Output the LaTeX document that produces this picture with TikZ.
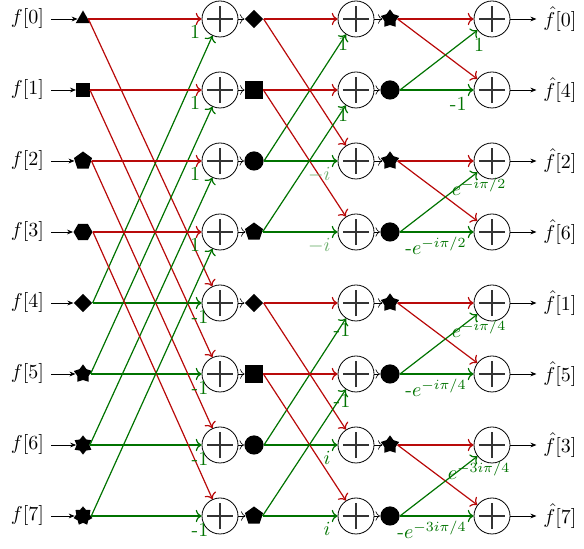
\documentclass[tikz,border=0pt]{standalone}
\usetikzlibrary{shapes.geometric,arrows.meta}
\definecolor{fred}{RGB}{185,10,10}
\definecolor{fgreen}{RGB}{0,115,0}
\definecolor{fpale}{RGB}{110,175,110}
\tikzset{
  adder/.style={circle,draw,line width=0.4pt,minimum size=18pt,inner sep=0pt,
    path picture={
      \draw[line width=1.1pt,black!80]
        ([xshift=-6.6pt]path picture bounding box.center) -- ([xshift=6.6pt]path picture bounding box.center)
        ([yshift=-6.6pt]path picture bounding box.center) -- ([yshift=6.6pt]path picture bounding box.center);}},
  mk/.style={fill=black,draw=none,inner sep=0pt},
  tri/.style={mk,regular polygon,regular polygon sides=3,minimum size=8.5pt},
  sq/.style={mk,rectangle,minimum size=6.6pt},
  bigsq/.style={mk,rectangle,minimum size=9pt},
  pent/.style={mk,regular polygon,regular polygon sides=5,minimum size=9.5pt},
  hexa/.style={mk,regular polygon,regular polygon sides=6,minimum size=9.5pt},
  dia/.style={mk,diamond,minimum size=9.2pt},
  dot/.style={mk,circle,minimum size=9.6pt},
  stfive/.style={mk,star,star points=5,star point ratio=1.6,minimum size=9.6pt},
  stsix/.style={mk,star,star points=6,star point ratio=1.5,minimum size=9.6pt},
  stseven/.style={mk,star,star points=7,star point ratio=1.4,minimum size=9.6pt},
  rline/.style={draw=fred,line width=0.6pt,->},
  gline/.style={draw=fgreen,line width=0.6pt,->},
  blk/.style={-{Stealth[length=3pt,width=2.4pt]},line width=0.4pt},
  sml/.style={->,line width=0.3pt},
  lab/.style={text=fgreen,inner sep=0pt},
  palelab/.style={text=fpale,inner sep=0pt},
}
\begin{document}
\begin{tikzpicture}[x=0.5pt,y=-0.5pt]
\useasboundingbox (0,0) rectangle (584,549);
% text labels and adders
\foreach \k/\o in {0/0,1/4,2/2,3/6,4/1,5/5,6/3,7/7} {
  \node (in\k) at (27.5,{19+71*\k}) {$f[\k]$};
  \node[adder] (a\k) at (220,{19+71*\k}) {};
  \node[adder] (b\k) at (356,{19+71*\k}) {};
  \node[adder] (c\k) at (492,{19+71*\k}) {};
  \node (out\k) at (560,{19+71*\k}) {$\hat{f}[\o]$};
}
% markers
\foreach \k/\s in {0/tri,1/sq,2/pent,3/hexa,4/dia,5/stfive,6/stsix,7/stseven}
  \node[\s] (m\k) at (83,{19+71*\k}) {};
\foreach \k/\s in {0/dia,1/bigsq,2/dot,3/pent,4/dia,5/bigsq,6/dot,7/pent}
  \node[\s] (n\k) at (254,{19+71*\k}) {};
\foreach \k/\s in {0/stfive,1/dot,2/stfive,3/dot,4/stfive,5/dot,6/stfive,7/dot}
  \node[\s] (p\k) at (390,{19+71*\k}) {};
% black arrows
\foreach \k in {0,...,7} {
  \draw[blk] (in\k.east) -- (m\k.west);
  \draw[sml] (a\k.east) -- (n\k.west);
  \draw[sml] (b\k.east) -- (p\k.west);
  \draw[blk] (c\k.east) -- (out\k.west);
}
% stage 1
\foreach \k in {0,...,3} {
  \pgfmathtruncatemacro\j{\k+4}
  \draw[rline] (m\k.east) -- (a\k);
  \draw[rline] (m\k.east) -- (a\j);
  \draw[gline] (m\j.east) -- (a\k);
  \draw[gline] (m\j.east) -- (a\j);
}
% stage 2
\foreach \i in {0,1,4,5} {
  \pgfmathtruncatemacro\j{\i+2}
  \draw[rline] (n\i.east) -- (b\i);
  \draw[rline] (n\i.east) -- (b\j);
  \draw[gline] (n\j.east) -- (b\i);
  \draw[gline] (n\j.east) -- (b\j);
}
% stage 3
\foreach \i in {0,2,4,6} {
  \pgfmathtruncatemacro\j{\i+1}
  \draw[rline] (p\i.east) -- (c\i);
  \draw[rline] (p\i.east) -- (c\j);
  \draw[gline] (p\j.east) -- (c\i);
  \draw[gline] (p\j.east) -- (c\j);
}
% weights stage 1
\foreach \k in {0,...,3}
  \node[lab] (wa\k) at (195,{19+71*\k+13}) {1};
\foreach \k in {4,...,7}
  \node[lab] (wa\k) at (200,{19+71*\k+14}) {-1};
% weights stage 2
\foreach \k in {0,1}
  \node[lab] (wb\k) at (343,{19+71*\k+25}) {1};
\foreach \k in {4,5}
  \node[lab] (wb\k) at (342,{19+71*\k+27}) {-1};
\foreach \k in {2,3}
  \node[palelab,anchor=east] (wb\k) at (331,{19+71*\k+14}) {$-i$};
\foreach \k in {6,7}
  \node[lab,anchor=east] (wb\k) at (331,{19+71*\k+13}) {$i$};
% weights stage 3
\foreach \k/\t in {0/1,2/$e^{-i\pi/2}$,4/$e^{-i\pi/4}$,6/$e^{-3i\pi/4}$}
  \node[lab] (wc\k) at (479,{19+71*\k+26}) {\t};
\foreach \k/\t in {1/-1,3/-$e^{-i\pi/2}$,5/-$e^{-i\pi/4}$,7/-$e^{-3i\pi/4}$}
  \node[lab,anchor=east] (wc\k) at (467,{19+71*\k+14}) {\t};
\end{tikzpicture}
\end{document}
